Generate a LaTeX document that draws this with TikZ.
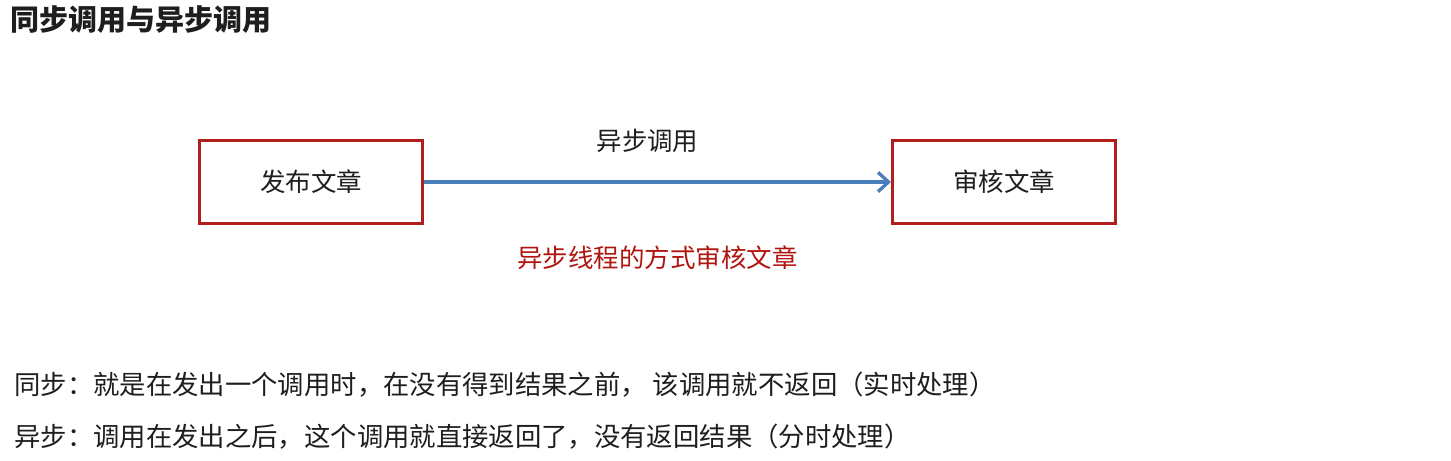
\documentclass[tikz,border=0pt]{standalone}
\usepackage{fontspec}
\setmainfont{Noto Sans CJK SC}
\newfontfamily\heavyfont{Noto Sans CJK SC Black}
\usetikzlibrary{arrows.meta,positioning}
\definecolor{boxred}{RGB}{178,30,28}
\definecolor{callblue}{RGB}{74,126,187}
\definecolor{notered}{RGB}{176,20,14}
\definecolor{textgray}{RGB}{30,30,30}

\tikzset{
  box/.style={draw=boxred, line width=1.7pt, minimum width=4.46cm, minimum height=1.66cm, text=textgray, font=\fontsize{14.5}{16}\selectfont},
  call/.style={draw=callblue, line width=1.9pt, -{Straight Barb[length=6pt,width=11pt]}},
  plain/.style={text=textgray, font=\fontsize{14.5}{16}\selectfont},
  para/.style={anchor=west, text=textgray, font=\fontsize{15}{17}\selectfont}
}

\begin{document}
\begin{tikzpicture}[every node/.style={inner sep=0pt}]
		\useasboundingbox (0,0) rectangle (29.02,-9.22);
		\node[anchor=west, text=textgray, font=\fontsize{16.5}{18}\selectfont\heavyfont] (title) at (0.2,-0.4) {同步调用与异步调用};
		\node[box] (pub) at (6.22,-3.64) {发布文章};
		\node[box, right=9.34cm of pub] (audit) {审核文章};
		\draw[call] (pub) -- coordinate[midway] (mid) (audit);
		\node[plain, above=0.58cm of mid, xshift=-0.2cm] (calllbl) {异步调用};
		\node[plain, below=1.26cm of mid, text=notered] (note) {异步线程的方式审核文章};
		\node[para] (sync) at (0.28,-7.7) {同步：就是在发出一个调用时，在没有得到结果之前， 该调用就不返回（实时处理）};
		\node[para, below=1.04cm of sync.west, anchor=west] (async) {异步：调用在发出之后，这个调用就直接返回了，没有返回结果（分时处理）};
	\end{tikzpicture}
\end{document}
